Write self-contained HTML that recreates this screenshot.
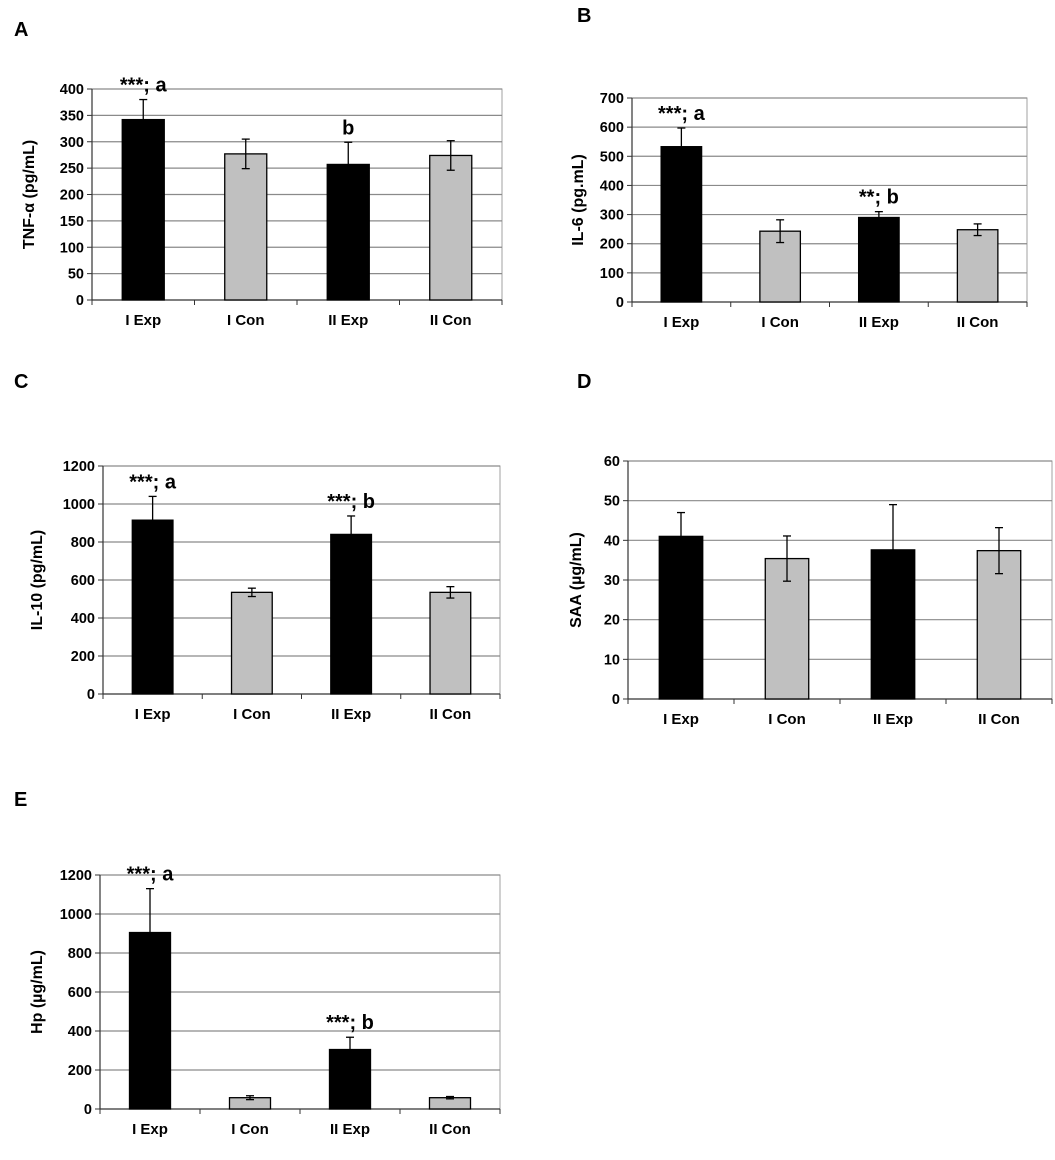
<!DOCTYPE html>
<html><head><meta charset="utf-8">
<style>
html,body{margin:0;padding:0;background:#fff;}
svg{display:block;font-family:"Liberation Sans",Arial,sans-serif;font-weight:bold;}
</style></head>
<body>
<svg id="fig" width="1055" height="1160" viewBox="0 0 1055 1160" xmlns="http://www.w3.org/2000/svg"></svg>
<script>
const categories = ["I Exp","I Con","II Exp","II Con"];
const tnfValues = [342, 277, 257, 274];
const tnfErrors = [38, 28, 42, 28];
const il6Values = [533, 243, 290, 248];
const il6Errors = [64, 39, 20, 20];
const il10Values = [915, 535, 840, 535];
const il10Errors = [125, 22, 97, 30];
const saaValues = [41, 35.4, 37.6, 37.4];
const saaErrors = [6, 5.7, 11.4, 5.8];
const hpValues = [905, 58, 305, 58];
const hpErrors = [225, 10, 63, 6];
const tnfTicks = [0,50,100,150,200,250,300,350,400];
const il6Ticks = [0,100,200,300,400,500,600,700];
const il10Ticks = [0,200,400,600,800,1000,1200];
const saaTicks = [0,10,20,30,40,50,60];
const hpTicks = [0,200,400,600,800,1000,1200];
const tnfNotes = ["***; a", "", "b", ""];
const il6Notes = ["***; a", "", "**; b", ""];
const il10Notes = ["***; a", "", "***; b", ""];
const saaNotes = ["", "", "", ""];
const hpNotes = ["***; a", "", "***; b", ""];

const svg = document.getElementById('fig');
const NS = "http://www.w3.org/2000/svg";
function mk(tag, attrs, parent){
  const e = document.createElementNS(NS, tag);
  for (const k in attrs) e.setAttribute(k, attrs[k]);
  (parent||svg).appendChild(e);
  return e;
}

function panel(cfg){
  const g = mk('g', {});
  
  
  const {L,R,T,B} = cfg;
  const maxV = cfg.ticks[cfg.ticks.length-1];
  const y = v => B - (v / maxV) * (B - T);
  const slot = (R - L) / categories.length;
  const xc = i => L + slot * (i + 0.5);
  const bw = slot * 0.41;

  const letter = mk('text', {x: cfg.lx, y: cfg.ly, 'font-size': 20, fill: '#000'}, g);
  letter.textContent = cfg.id;
  
  

  mk('rect', {x: L, y: T, width: R - L, height: B - T, fill: '#fff', stroke: '#a0a0a0', 'stroke-width': 1}, g);
  cfg.ticks.forEach(t => {
    const yy = y(t);
    if (t > 0) {
      const gl = mk('line', {x1: L, x2: R, y1: yy, y2: yy, stroke: '#8a8a8a', 'stroke-width': 1.2}, g);
      
      
    }
    mk('line', {x1: L - 5, x2: L, y1: yy, y2: yy, stroke: '#333', 'stroke-width': 1}, g);
    const tl = mk('text', {x: L - 8, y: yy + 5, 'font-size': 14.5, 'text-anchor': 'end', fill: '#000'}, g);
    tl.textContent = t;
    
    
  });
  mk('line', {x1: L, x2: L, y1: T, y2: B, stroke: '#333', 'stroke-width': 1.2}, g);
  mk('line', {x1: L, x2: R, y1: B, y2: B, stroke: '#333', 'stroke-width': 1.2}, g);
  for (let i = 0; i <= categories.length; i++) {
    mk('line', {x1: L + slot*i, x2: L + slot*i, y1: B, y2: B + 5, stroke: '#333', 'stroke-width': 1}, g);
  }

  const yt = mk('text', {x: 0, y: 0, 'font-size': 16, 'text-anchor': 'middle', fill: '#000',
    transform: 'translate(' + cfg.tx + ',' + ((T + B) / 2) + ') rotate(-90)'}, g);
  yt.textContent = cfg.title;
  
  

  categories.forEach((c, i) => {
    const cx = xc(i);
    const v = cfg.values[i], e = cfg.errors[i];
    const exp = i % 2 === 0;
    const bar = mk('rect', {x: cx - bw/2, y: y(v), width: bw, height: B - y(v),
      fill: exp ? '#000' : '#c0c0c0', stroke: '#000', 'stroke-width': 1.3}, g);
    
    
    const eg = mk('g', {stroke: '#000', 'stroke-width': 1.3}, g);
    
    
    mk('line', {x1: cx, x2: cx, y1: y(v + e), y2: y(v - e)}, eg);
    mk('line', {x1: cx - 4, x2: cx + 4, y1: y(v + e), y2: y(v + e)}, eg);
    mk('line', {x1: cx - 4, x2: cx + 4, y1: y(v - e), y2: y(v - e)}, eg);
    const cl = mk('text', {x: cx, y: B + 25, 'font-size': 15, 'text-anchor': 'middle', fill: '#000'}, g);
    cl.textContent = c;
    
    
    if (cfg.notes[i]) {
      const nt = mk('text', {x: cx, y: y(v + e) - 8, 'font-size': 20, 'text-anchor': 'middle', fill: '#000'}, g);
      nt.textContent = cfg.notes[i];
      
      
    }
  });
}

panel({id:'A', lx:14, ly:36, L:92, R:502, T:89, B:300, tx:34, title:'TNF-α (pg/mL)', ticks:tnfTicks, values:tnfValues, errors:tnfErrors, notes:tnfNotes});
panel({id:'B', lx:577, ly:22, L:632, R:1027, T:98, B:302, tx:583, title:'IL-6 (pg.mL)', ticks:il6Ticks, values:il6Values, errors:il6Errors, notes:il6Notes});
panel({id:'C', lx:14, ly:388, L:103, R:500, T:466, B:694, tx:42, title:'IL-10 (pg/mL)', ticks:il10Ticks, values:il10Values, errors:il10Errors, notes:il10Notes});
panel({id:'D', lx:577, ly:388, L:628, R:1052, T:461, B:699, tx:581, title:'SAA (µg/mL)', ticks:saaTicks, values:saaValues, errors:saaErrors, notes:saaNotes});
panel({id:'E', lx:14, ly:806, L:100, R:500, T:875, B:1109, tx:42, title:'Hp (µg/mL)', ticks:hpTicks, values:hpValues, errors:hpErrors, notes:hpNotes});
</script>
</body></html>
